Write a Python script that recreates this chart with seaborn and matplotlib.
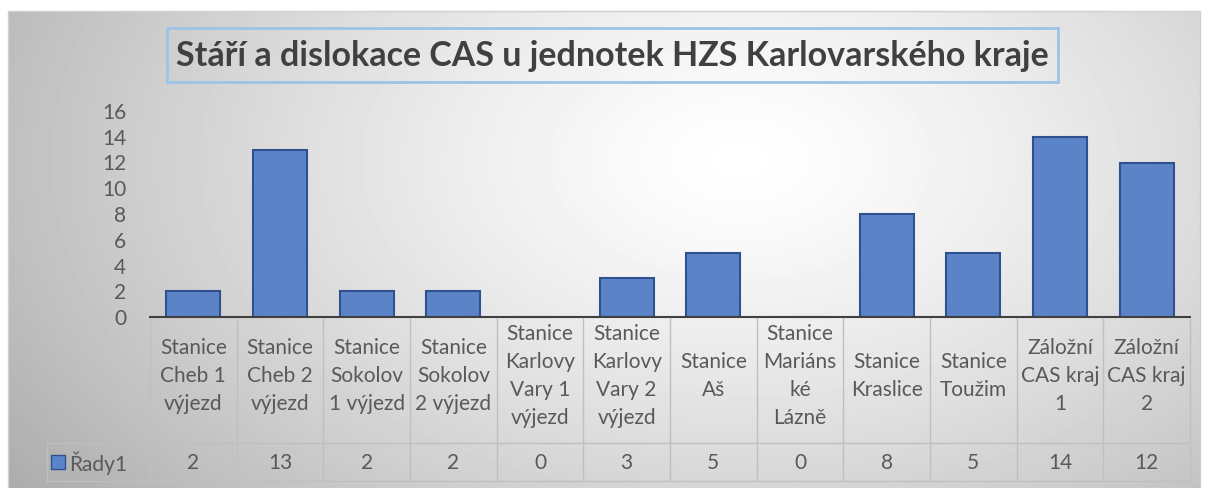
import numpy as np
import pandas as pd
import matplotlib
matplotlib.use('Agg')
import matplotlib.pyplot as plt
import seaborn as sns
from matplotlib.patches import Rectangle

# data
categories = ['Stanice Cheb 1 výjezd', 'Stanice Cheb 2 výjezd', 'Stanice Sokolov 1 výjezd',
              'Stanice Sokolov 2 výjezd', 'Stanice Karlovy Vary 1 výjezd',
              'Stanice Karlovy Vary 2 výjezd', 'Stanice Aš', 'Stanice Mariánské Lázně',
              'Stanice Kraslice', 'Stanice Toužim', 'Záložní CAS kraj 1', 'Záložní CAS kraj 2']
tick_labels = ['Stanice\nCheb 1\nvýjezd', 'Stanice\nCheb 2\nvýjezd', 'Stanice\nSokolov\n1 výjezd',
               'Stanice\nSokolov\n2 výjezd', 'Stanice\nKarlovy\nVary 1\nvýjezd',
               'Stanice\nKarlovy\nVary 2\nvýjezd', 'Stanice\nAš', 'Stanice\nMariáns\nké\nLázně',
               'Stanice\nKraslice', 'Stanice\nToužim', 'Záložní\nCAS kraj\n1', 'Záložní\nCAS kraj\n2']
values = [2, 13, 2, 2, 0, 3, 5, 0, 8, 5, 14, 12]
series_name = 'Řady1'
yticks = [0, 2, 4, 6, 8, 10, 12, 14, 16]
title = 'Stáří a dislokace CAS u jednotek HZS Karlovarského kraje'

bar_color = '#5b84c8'
bar_edge = '#2f528f'
text_color = '#595959'
grid_color = '#bfbfbf'

sns.set_style('white')
plt.rcParams['font.family'] = ['Lato', 'DejaVu Sans']

W, H = 1208, 488
fig = plt.figure(figsize=(W / 100, H / 100), dpi=100)


def px(x0, y0, x1, y1):
    # pixel box (top-left origin) -> figure fraction rect
    return [x0 / W, 1 - y1 / H, (x1 - x0) / W, (y1 - y0) / H]


# radial gradient background of the chart area
bg = fig.add_axes([0, 0, 1, 1], zorder=0)
yy, xx = np.mgrid[0:H, 0:W]
d = np.sqrt(((xx - 740) / 800) ** 2 + ((yy - 160) / 500) ** 2)
img = 1 - 0.28 * np.clip(d, 0, 1.2) ** 1.3
inside = (xx >= 8) & (xx <= 1199) & (yy >= 11)
img = np.where(inside, img, 1.0)
bg.imshow(img, cmap='gray', vmin=0, vmax=1, extent=(0, W, H, 0), aspect='auto',
          interpolation='bilinear')
bg.set_xlim(0, W)
bg.set_ylim(H, 0)
bg.axis('off')
bg.add_patch(Rectangle((7.5, 10.5), 1192, 480, fill=False, edgecolor='#d0d0d0', lw=1))

# title box
bg.add_patch(Rectangle((167, 28), 891, 54, fill=False, edgecolor='#9dc3e6', lw=2))
bg.text(612, 56, title, ha='center', va='center', fontsize=24.5, fontweight='bold',
        color='#404040')

# bars
ax = fig.add_axes(px(150, 111, 1190, 317), zorder=1)
df = pd.DataFrame({'kategorie': categories, 'hodnota': values})
sns.barplot(data=df, x='kategorie', y='hodnota', color=bar_color, saturation=1,
            edgecolor=bar_edge, linewidth=1.5, width=0.62, ax=ax)
ax.set_xlim(-0.5, len(categories) - 0.5)
ax.set_ylim(0, 16)
ax.set_yticks(yticks)
ax.set_xticks([])
ax.set_xlabel('')
ax.set_ylabel('')
ax.patch.set_alpha(0)
for s in ['top', 'right', 'left']:
    ax.spines[s].set_visible(False)
ax.spines['bottom'].set_color('#404040')
ax.spines['bottom'].set_linewidth(1.5)
ax.tick_params(axis='y', length=0, pad=17, labelsize=15, labelcolor=text_color)

# data table under the axis
n = len(categories)
tax = fig.add_axes(px(150, 318, 1190, 481), zorder=1)
tax.set_xlim(-0.5, n - 0.5)
tax.set_ylim(481, 318)
tax.axis('off')
leg_x = -0.5 - 103 / (1040 / n)
for i in range(n + 1):
    tax.plot([i - 0.5, i - 0.5], [318, 481], color=grid_color, lw=1, clip_on=False)
tax.plot([leg_x, leg_x], [443, 481], color=grid_color, lw=1, clip_on=False)
tax.plot([leg_x, n - 0.5], [443, 443], color=grid_color, lw=1, clip_on=False)
tax.plot([leg_x, n - 0.5], [481, 481], color=grid_color, lw=1, clip_on=False)

for i, (lab, v) in enumerate(zip(tick_labels, values)):
    tax.text(i, 376, lab, ha='center', va='center', fontsize=15, color=text_color,
             linespacing=1.5)
    tax.text(i, 463, str(v), ha='center', va='center', fontsize=15, color=text_color)

tax.plot(leg_x + 0.13, 462, marker='s', ms=10, mfc=bar_color, mec=bar_edge, mew=1,
         clip_on=False)
tax.text(leg_x + 0.26, 463, series_name, ha='left', va='center', fontsize=15,
         color=text_color)

fig.savefig('out.png', dpi=100)
